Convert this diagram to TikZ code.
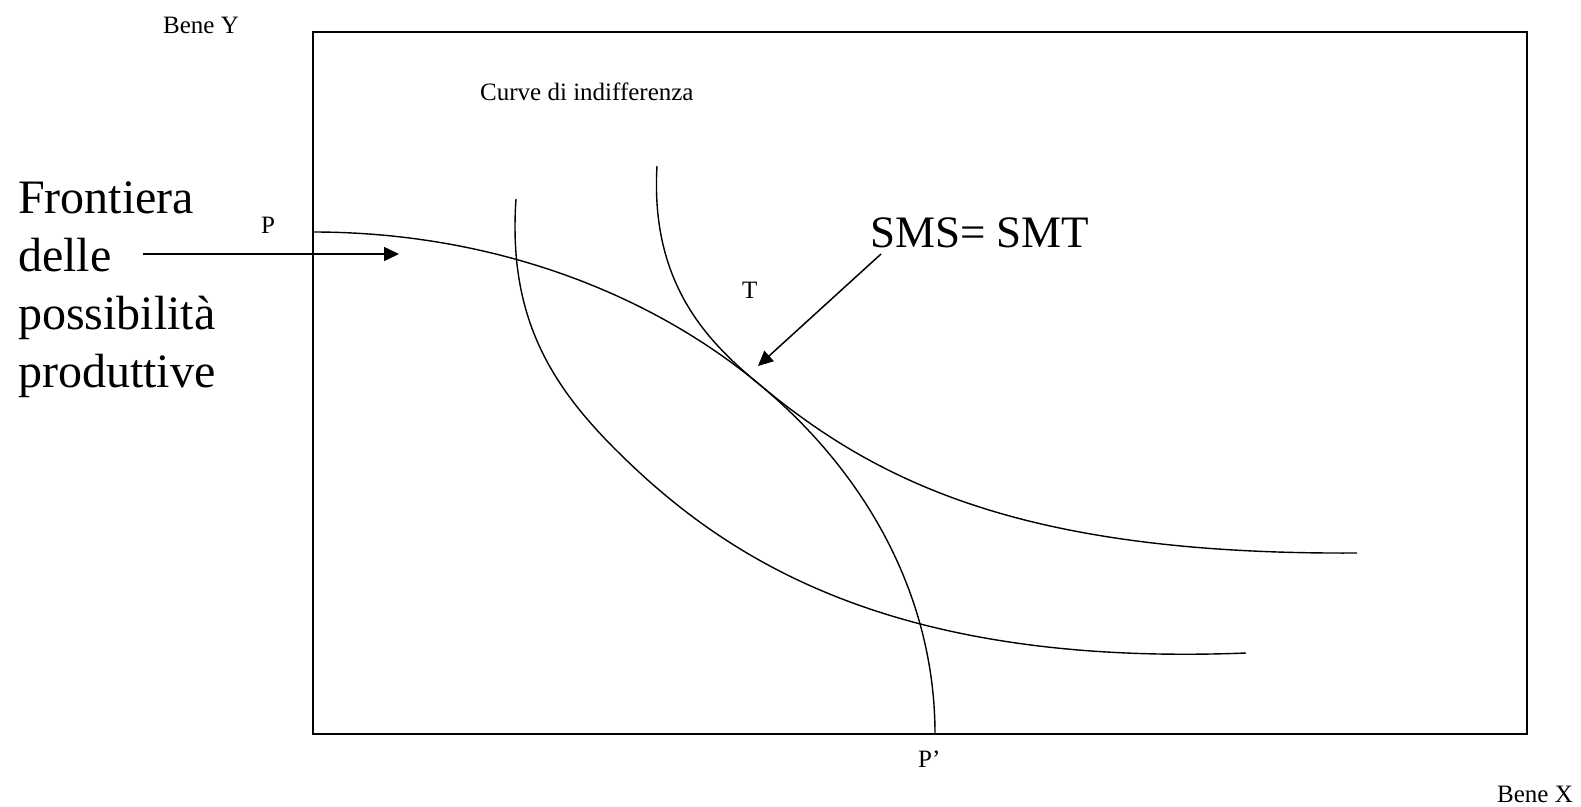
\documentclass[tikz,border=0pt]{standalone}
\usepackage{fontspec}
\setmainfont{Liberation Serif}
\usetikzlibrary{arrows.meta}

\begin{document}
\begin{tikzpicture}[
    x=1pt, y=-1pt,
    lbl/.style={inner sep=0pt, anchor=base west, font=\fontsize{25}{30}\selectfont},
    big/.style={inner sep=0pt, anchor=base west, align=left, font=\fontsize{#1}{58}\selectfont},
    arr/.style={-{Triangle[length=15pt, width=14pt]}, line width=1.5pt},
    curva/.style={line width=1.4pt},
  ]
  \useasboundingbox (0,0) rectangle (1581,806);

  % assi
  \draw[line width=2pt] (313,32) rectangle (1527,734);

  % frontiera P -- P'
  \coordinate (P) at (313,232);
  \draw[curva] (P) arc[start angle=-90, end angle=0, x radius=622, y radius=502];

  % curve di indifferenza
  \coordinate (u1) at (516,199);
  \coordinate (u2) at (1246,653);
  \draw[curva] (u1) .. controls (507,329) and (560,399) .. (640,473)
    .. controls (750,574) and (916,666) .. (u2);
  \coordinate (v1) at (657,166);
  \coordinate (v2) at (1357,553);
  \draw[curva] (v1) .. controls (650,286) and (710,343.5) .. (760,385)
    .. controls (880,484.6) and (1027,555) .. (v2);

  % etichette
  \node[lbl] (beney) at (163,33) {Bene Y};
  \node[lbl] (curve) at (480,100) {Curve di indifferenza};
  \node[lbl] (plab) at (261,233) {P};
  \node[lbl] (tlab) at (742,298) {T};
  \node[lbl] (pplab) at (918,767) {P’};
  \node[lbl] (benex) at (1497,802) {Bene X};
  \node[big=45] (sms) at (870,247) {SMS= SMT};
  \node[big=48] (front) at (18,387) {Frontiera\\delle\\possibilità\\produttive};

  % frecce
  \coordinate (fa) at (143,254);
  \coordinate (fb) at (399,254);
  \draw[arr] (fa) -- (fb);
  \coordinate (sa) at (881,254);
  \coordinate (sb) at (758,366);
  \draw[arr] (sa) -- (sb);
\end{tikzpicture}
\end{document}
